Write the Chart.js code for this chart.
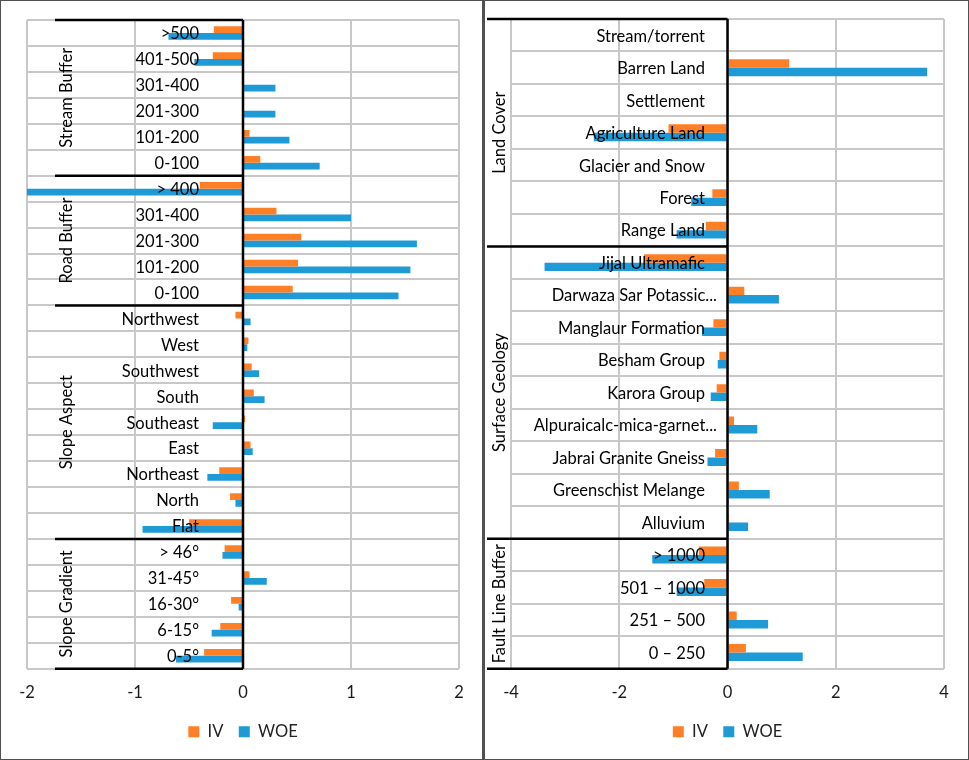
<!DOCTYPE html>
<html>
<head>
<meta charset="utf-8">
<script src="https://cdn.jsdelivr.net/npm/chart.js@4.4.1/dist/chart.umd.min.js"></script>
<style>
body { margin: 0; background: #fff; }
.panel { position: absolute; top: 0; height: 760px; box-sizing: border-box; border: 1px solid #505050; }
#p1 { left: 0; width: 484px; border-right-width: 2px; }
#p2 { left: 484px; width: 485px; }
</style>
</head>
<body>
<div class="panel" id="p1"><canvas id="c1"></canvas></div>
<div class="panel" id="p2"><canvas id="c2"></canvas></div>
<script>
// left panel
const leftLabels = ['>500', '401-500', '301-400', '201-300', '101-200', '0-100',
    '> 400', '301-400', '201-300', '101-200', '0-100',
    'Northwest', 'West', 'Southwest', 'South', 'Southeast', 'East', 'Northeast', 'North', 'Flat',
    '> 46°', '31-45°', '16-30°', '6-15°', '0-5°']
const leftIV = [-0.27, -0.28, 0, 0, 0.06, 0.16,
    -0.40, 0.31, 0.54, 0.51, 0.46,
    -0.07, 0.05, 0.08, 0.10, 0.02, 0.07, -0.22, -0.12, -0.50,
    -0.17, 0.06, -0.11, -0.21, -0.36]
const leftWOE = [-0.69, -0.45, 0.30, 0.30, 0.43, 0.71,
    -2.05, 1.00, 1.61, 1.55, 1.44,
    0.07, 0.04, 0.15, 0.20, -0.28, 0.09, -0.33, -0.07, -0.93,
    -0.19, 0.22, -0.04, -0.29, -0.62]
const leftGroups = ['Stream Buffer', 'Road Buffer', 'Slope Aspect', 'Slope Gradient']
const leftSizes = [6, 5, 9, 5]
const leftTicks = [-2, 2, 1]

// right panel
const rightLabels = ['Stream/torrent', 'Barren Land', 'Settlement', 'Agriculture Land', 'Glacier and Snow', 'Forest', 'Range Land',
    'Jijal Ultramafic', 'Darwaza Sar Potassic...', 'Manglaur Formation', 'Besham Group', 'Karora Group',
    'Alpuraicalc-mica-garnet...', 'Jabrai Granite Gneiss', 'Greenschist Melange', 'Alluvium',
    '> 1000', '501 – 1000', '251 – 500', '0 – 250']
const rightIV = [0, 1.14, 0, -1.09, 0, -0.28, -0.40,
    -1.54, 0.31, -0.26, -0.15, -0.20, 0.12, -0.23, 0.21, 0.03,
    -0.53, -0.43, 0.17, 0.34]
const rightWOE = [0, 3.69, 0, -2.47, 0, -0.67, -0.94,
    -3.38, 0.95, -0.47, -0.18, -0.31, 0.55, -0.37, 0.78, 0.38,
    -1.39, -0.94, 0.75, 1.39]
const rightGroups = ['Land Cover', 'Surface Geology', 'Fault Line Buffer']
const rightSizes = [7, 9, 4]
const rightTicks = [-4, 4, 2]

const orange = '#FF7F27'
const blue = '#1E9AD6'
const gridGray = '#C8C8C8'
const font = 'Lato'

const groupPlugin = {
    id: 'groups',
    afterDatasetsDraw(chart, args, opts) {
        const {ctx, chartArea, scales: {x, y}} = chart
        const zero = x.getPixelForValue(0)
        const half = (y.getPixelForValue(1) - y.getPixelForValue(0)) / 2
        ctx.save()

        ctx.font = '16.5px ' + font
        ctx.fillStyle = '#000'
        ctx.textAlign = 'right'
        ctx.textBaseline = 'middle'
        chart.data.labels.forEach((lab, i) => {
            // excel lets the cut-off labels run a bit further right
            const dx = lab.endsWith('...') ? 12 : 0
            ctx.fillText(lab, opts.labelX + dx, y.getPixelForValue(i) + 1)
        })

        ctx.strokeStyle = '#000'
        ctx.lineWidth = 2.5
        ctx.beginPath()
        ctx.moveTo(zero, chartArea.top)
        ctx.lineTo(zero, chartArea.bottom)
        ctx.stroke()

        let start = 0
        opts.sizes.forEach((n, g) => {
            const top = y.getPixelForValue(start) - half
            const bottom = y.getPixelForValue(start + n - 1) + half
            ctx.beginPath()
            ctx.moveTo(opts.sepX, top)
            ctx.lineTo(zero, top)
            if (g == opts.sizes.length - 1) {
                ctx.moveTo(opts.sepX, bottom)
                ctx.lineTo(zero, bottom)
            }
            ctx.stroke()

            ctx.save()
            ctx.translate(opts.groupX, (top + bottom) / 2)
            ctx.rotate(-Math.PI / 2)
            ctx.textAlign = 'center'
            ctx.fillText(opts.names[g], 0, 0)
            ctx.restore()
            start += n
        })
        ctx.restore()
    }
}

function groupedBars(canvasId, labels, iv, woe, ticks, groups, pad) {
    new Chart(document.getElementById(canvasId), {
        type: 'bar',
        data: {
            labels: labels,
            datasets: [
                {label: 'IV  ', data: iv, backgroundColor: orange, borderWidth: 0},
                {label: 'WOE', data: woe, backgroundColor: blue, borderWidth: 0}
            ]
        },
        options: {
            indexAxis: 'y',
            responsive: true,
            maintainAspectRatio: false,
            animation: false,
            layout: {padding: pad.layout},
            datasets: {bar: {categoryPercentage: 0.52, barPercentage: 1}},
            scales: {
                x: {
                    min: ticks[0],
                    max: ticks[1],
                    ticks: {stepSize: ticks[2], padding: 14, color: '#1a1a1a', font: {family: font, size: 16.5}},
                    grid: {color: gridGray, lineWidth: 2, drawTicks: false},
                    border: {display: false}
                },
                y: {
                    ticks: {display: false},
                    grid: {color: gridGray, lineWidth: 2, offset: true, drawTicks: false},
                    border: {display: false}
                }
            },
            plugins: {
                legend: {
                    position: 'bottom',
                    labels: {boxWidth: 11, boxHeight: 11, padding: 7, color: '#222', font: {family: font, size: 16.5}}
                },
                tooltip: {enabled: false},
                groups: {names: groups[0], sizes: groups[1], labelX: pad.labelX, groupX: pad.groupX, sepX: pad.sepX}
            }
        },
        plugins: [groupPlugin]
    })
}

groupedBars('c1', leftLabels, leftIV, leftWOE, leftTicks, [leftGroups, leftSizes],
    {layout: {left: 26, right: 23, top: 19, bottom: 9}, labelX: 198, groupX: 66, sepX: 54})
groupedBars('c2', rightLabels, rightIV, rightWOE, rightTicks, [rightGroups, rightSizes],
    {layout: {left: 26, right: 24, top: 18, bottom: 9}, labelX: 220, groupX: 15, sepX: 2})
</script>
</body>
</html>
